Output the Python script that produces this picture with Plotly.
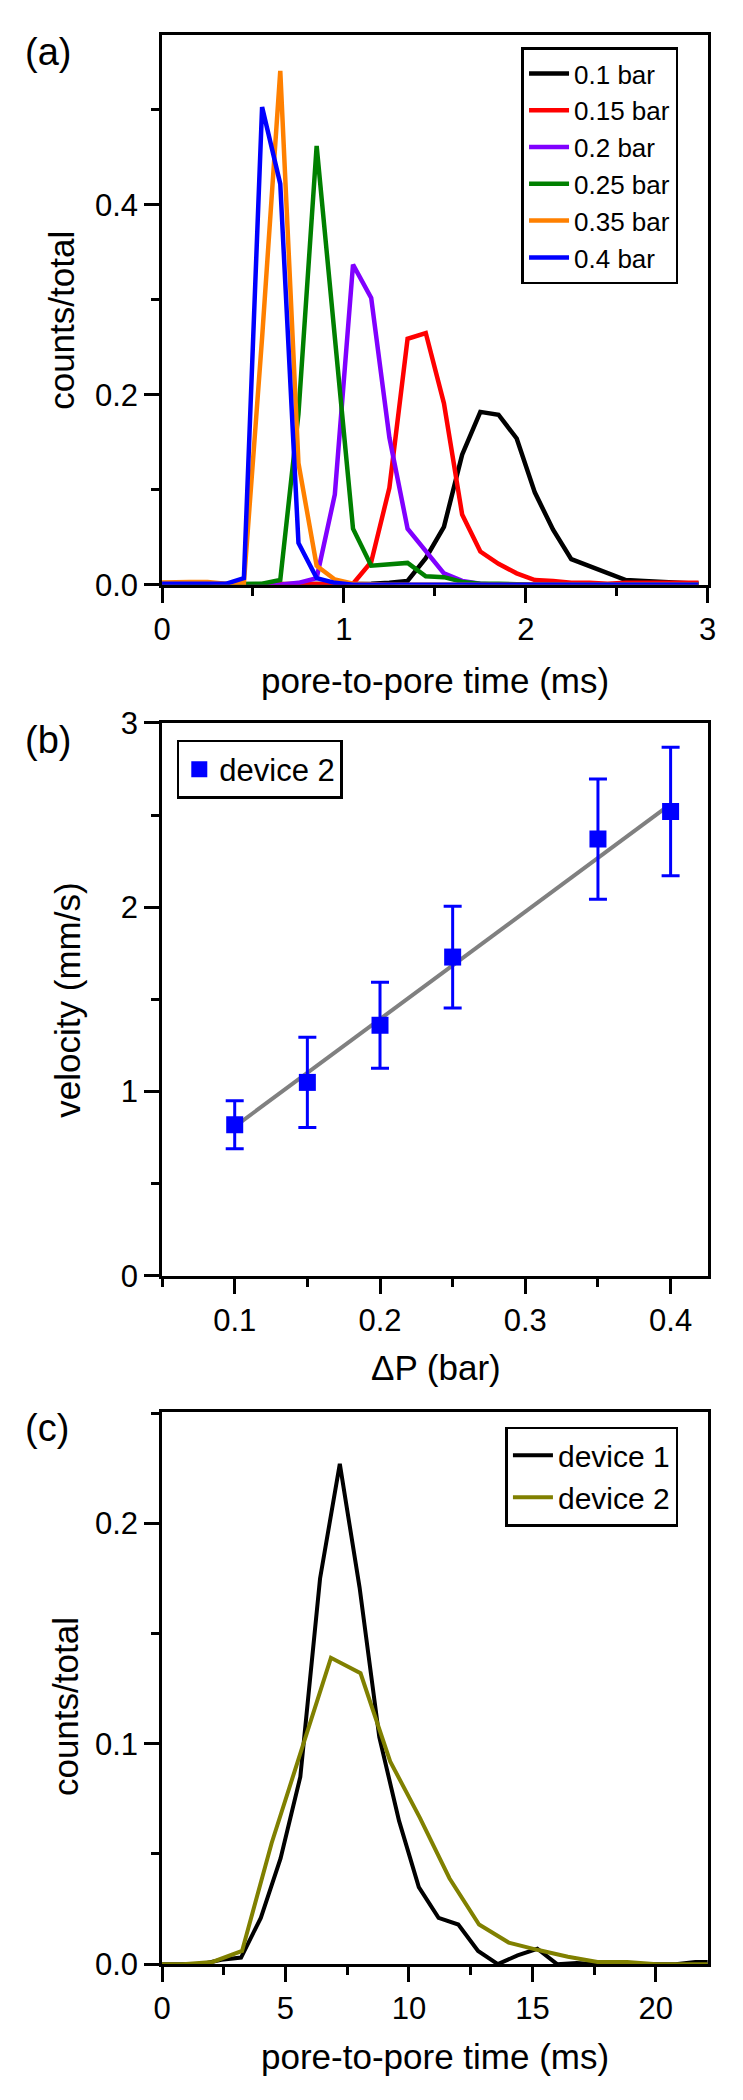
import plotly.graph_objects as go

# ---------------- Panel (a) data ----------------
bins_a = [-0.05, 0.05, 0.15, 0.25, 0.35, 0.45, 0.55, 0.65, 0.75, 0.85, 0.95,
          1.05, 1.15, 1.25, 1.35, 1.45, 1.55, 1.65, 1.75, 1.85, 1.95,
          2.05, 2.15, 2.25, 2.35, 2.45, 2.55, 2.65, 2.75, 2.85, 2.95]
bar_010 = [0, 0, 0, 0, 0, 0, 0, 0, 0, 0, 0,
           0, 0.001, 0.002, 0.004, 0.028, 0.061, 0.137, 0.182, 0.179, 0.154,
           0.097, 0.058, 0.027, 0.020, 0.013, 0.005, 0.004, 0.003, 0.003, 0.001]
bar_015 = [0, 0, 0, 0, 0, 0, 0, 0, 0, 0, 0,
           0.001, 0.024, 0.102, 0.259, 0.265, 0.191, 0.074, 0.035, 0.022, 0.012,
           0.005, 0.004, 0.002, 0.002, 0.001, 0.002, 0.002, 0.002, 0.002, 0.002]
bar_020 = [0, 0, 0, 0, 0, 0, 0, 0, 0.002, 0.007, 0.095,
           0.337, 0.302, 0.155, 0.059, 0.036, 0.012, 0.004, 0.001, 0, 0,
           0, 0, 0, 0, 0, 0, 0, 0, 0, 0]
bar_025 = [0, 0, 0, 0, 0, 0, 0.001, 0.005, 0.180, 0.462, 0.255,
           0.059, 0.020, 0.022, 0.023, 0.009, 0.008, 0.003, 0.001, 0.001, 0,
           0, 0, 0, 0, 0, 0, 0, 0, 0, 0]
bar_035 = [0.002, 0.003, 0.003, 0.003, 0.001, 0.002, 0.260, 0.541, 0.128, 0.020, 0.0055,
           0.001, 0, 0, 0, 0, 0, 0, 0, 0, 0,
           0, 0, 0, 0, 0, 0, 0, 0, 0, 0]
bar_040 = [0.001, 0.001, 0.001, 0.001, 0.001, 0.007, 0.503, 0.422, 0.044, 0.007, 0.002,
           0, 0, 0, 0, 0, 0, 0, 0, 0, 0,
           0, 0, 0, 0, 0, 0, 0, 0, 0, 0]
series_a_names = ["0.1 bar", "0.15 bar", "0.2 bar", "0.25 bar", "0.35 bar", "0.4 bar"]
series_a_colors = ["#000000", "#FF0000", "#8000FF", "#008000", "#FF8000", "#0000FF"]

# ---------------- Panel (b) data ----------------
dp = [0.1, 0.15, 0.2, 0.25, 0.35, 0.4]
velocity = [0.82, 1.05, 1.36, 1.73, 2.37, 2.52]
vel_err = [0.13, 0.245, 0.233, 0.276, 0.326, 0.349]
fit_x = [0.1, 0.4]
fit_y = [0.81, 2.56]

# ---------------- Panel (c) data ----------------
dev1_x = [0, 0.8, 1.6, 2.4, 3.2, 4.0, 4.8, 5.6, 6.4, 7.2, 8.0, 8.8, 9.6, 10.4,
          11.2, 12.0, 12.8, 13.6, 14.4, 15.2, 16.0, 16.8, 17.6, 18.4, 19.2,
          20.0, 20.8, 21.6, 22.4]
dev1_y = [0, 0, 0, 0.002, 0.003, 0.021, 0.048, 0.085, 0.175, 0.227, 0.171, 0.103,
          0.065, 0.035, 0.021, 0.018, 0.006, 0.0, 0.004, 0.007, 0.0, 0.0005, 0, 0,
          0, 0, 0, 0.001, 0.001]
dev2_x = [-0.36, 0.84, 2.04, 3.24, 4.44, 5.64, 6.84, 8.04, 9.24, 10.44, 11.64,
          12.84, 14.04, 15.24, 16.44, 17.64, 18.84, 20.04, 21.24, 22.44]
dev2_y = [0, 0, 0.001, 0.006, 0.055, 0.097, 0.139, 0.132, 0.092, 0.0665, 0.039,
          0.018, 0.0098, 0.0064, 0.0034, 0.001, 0.001, 0, 0, 0]

FONT = "Arial, Liberation Sans, sans-serif"
# the page body keeps its default 8px margin, so the figure is 16px smaller
OFF = 8
W, H = 743 - OFF, 2100 - 2 * OFF

fig = go.Figure()

for name, col, ys in zip(series_a_names, series_a_colors,
                         [bar_010, bar_015, bar_020, bar_025, bar_035, bar_040]):
    fig.add_trace(go.Scatter(x=bins_a, y=ys, mode="lines", name=name,
                             line=dict(color=col, width=4.5),
                             xaxis="x", yaxis="y", legend="legend"))

fig.add_trace(go.Scatter(x=fit_x, y=fit_y, mode="lines", showlegend=False,
                         line=dict(color="#808080", width=4),
                         xaxis="x2", yaxis="y2"))
fig.add_trace(go.Scatter(x=dp, y=velocity, mode="markers", name="device 2",
                         marker=dict(symbol="square", size=17, color="#0000FF"),
                         error_y=dict(type="data", array=vel_err, color="#0000FF",
                                      thickness=3, width=9),
                         xaxis="x2", yaxis="y2", legend="legend2"))

fig.add_trace(go.Scatter(x=dev1_x, y=dev1_y, mode="lines", name="device 1",
                         line=dict(color="#000000", width=4),
                         xaxis="x3", yaxis="y3", legend="legend3"))
fig.add_trace(go.Scatter(x=dev2_x, y=dev2_y, mode="lines", name="device 2",
                         line=dict(color="#808000", width=4),
                         xaxis="x3", yaxis="y3", legend="legend3"))


def px_x(p):
    return (p - OFF) / W


def px_y(p):
    return 1 - (p - OFF) / H


xdom = [px_x(156.7), px_x(716)]


def axis(rng, dtick, minor_dtick, dom, anchor, tick0=0):
    return dict(
        range=rng, domain=dom, anchor=anchor, tick0=tick0, dtick=dtick,
        showline=True, linecolor="black", linewidth=2.7, mirror=True,
        ticks="outside", ticklen=15, tickwidth=2.7, tickcolor="black",
        showgrid=False, zeroline=False,
        tickfont=dict(family=FONT, size=31, color="black"),
        minor=dict(ticks="outside", ticklen=8, tickwidth=2.7, tickcolor="black",
                   dtick=minor_dtick, tick0=tick0, showgrid=False),
    )


ya_dom = [px_y(577.3), px_y(18)]
yb_dom = [px_y(1280.3), px_y(717.9)]
yc_dom = [px_y(1980.3), px_y(1418.8)]

fig.update_layout(
    width=W, height=H, autosize=False,
    margin=dict(l=0, r=0, t=0, b=0),
    paper_bgcolor="white", plot_bgcolor="white",
    font=dict(family=FONT, color="black"),
    xaxis=axis([0, 3], 1, 0.5, xdom, "y"),
    yaxis=dict(axis([0, 0.579], 0.2, 0.1, ya_dom, "x"), tickformat=".1f"),
    xaxis2=axis([0.05, 0.4255], 0.1, 0.05, xdom, "y2", tick0=0),
    yaxis2=axis([0, 3], 1, 0.5, yb_dom, "x2"),
    xaxis3=axis([0, 22.1], 5, 2.5, xdom, "y3"),
    yaxis3=dict(axis([0, 0.2505], 0.1, 0.05, yc_dom, "x3"), tickformat=".1f"),
    legend=dict(x=px_x(525), y=px_y(30.7), xanchor="left", yanchor="top",
                bordercolor="black", borderwidth=2.7, bgcolor="white",
                font=dict(family=FONT, size=26, color="black"),
                itemwidth=40, tracegroupgap=0),
    legend2=dict(x=px_x(171.6), y=px_y(735), xanchor="left", yanchor="top",
                 bordercolor="black", borderwidth=2.7, bgcolor="white",
                 font=dict(family=FONT, size=31, color="black")),
    legend3=dict(x=px_x(508.5), y=px_y(1433.6), xanchor="left", yanchor="top",
                 bordercolor="black", borderwidth=2.7, bgcolor="white",
                 font=dict(family=FONT, size=30, color="black"),
                 itemwidth=40, tracegroupgap=0),
)

annots = [
    # panel labels
    dict(text="(a)", x=px_x(14), y=px_y(35), xanchor="left", yanchor="middle", size=38),
    dict(text="(b)", x=px_x(14), y=px_y(735), xanchor="left", yanchor="middle", size=38),
    dict(text="(c)", x=px_x(14), y=px_y(1435), xanchor="left", yanchor="middle", size=38),
    # x titles
    dict(text="pore-to-pore time (ms)", x=px_x(437), y=px_y(675), xanchor="center", yanchor="middle", size=35),
    dict(text="\u0394P (bar)", x=px_x(437.7), y=px_y(1373.5), xanchor="center", yanchor="middle", size=35),
    dict(text="pore-to-pore time (ms)", x=px_x(437), y=px_y(2074.5), xanchor="center", yanchor="middle", size=35),
    # y titles
    dict(text="counts/total", x=px_x(54), y=px_y(308), xanchor="center", yanchor="middle", size=35, angle=-90),
    dict(text="velocity (mm/s)", x=px_x(60), y=px_y(999.6), xanchor="center", yanchor="middle", size=35, angle=-90),
    dict(text="counts/total", x=px_x(58), y=px_y(1718), xanchor="center", yanchor="middle", size=35, angle=-90),
]
for a in annots:
    fig.add_annotation(text=a["text"], x=a["x"], y=a["y"], xref="paper", yref="paper",
                       xanchor=a["xanchor"], yanchor=a["yanchor"], showarrow=False,
                       textangle=a.get("angle", 0),
                       font=dict(family=FONT, size=a["size"], color="black"))

fig.write_html("out.html")
